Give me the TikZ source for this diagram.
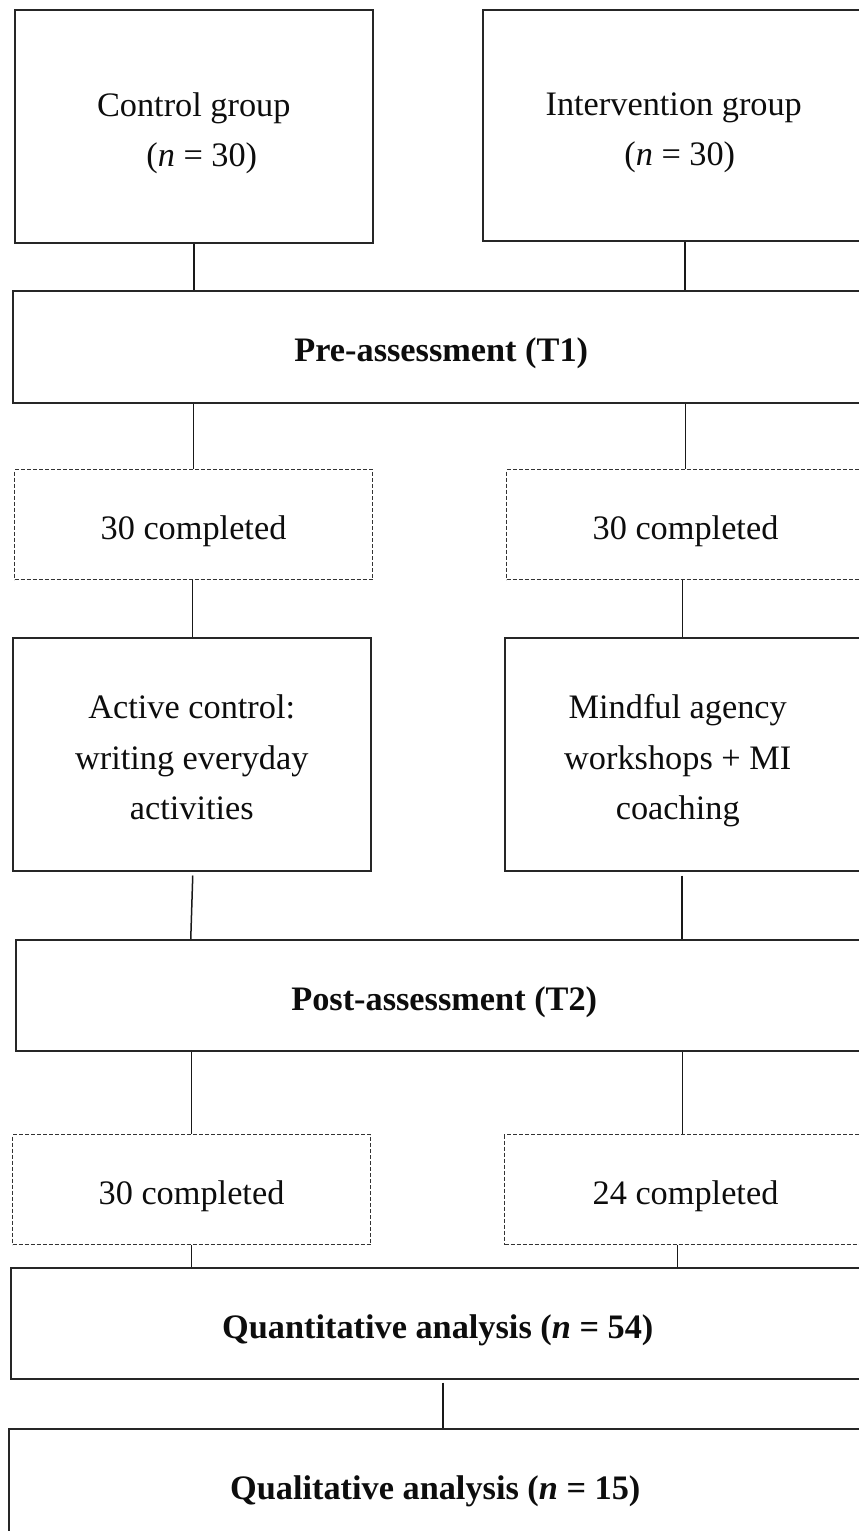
\documentclass[tikz,border=0pt]{standalone}
\usepackage{fontspec}
\setmainfont{Liberation Serif}
\newcommand\boxtext[1]{\raisebox{-5pt}[\height][\depth]{\begin{tabular}{@{}c@{}}#1\end{tabular}}}
\begin{document}
\begin{tikzpicture}[x=1pt,y=-1pt,
  every node/.style={font=\fontsize{34.3}{50.5}\selectfont, text=black!95, inner sep=0pt},
  box/.style={draw=black!85, line width=1.5pt, anchor=north west},
  dbox/.style={draw=black!80, line width=1pt, dash pattern=on 4pt off 2pt, anchor=north west},
  conn/.style={draw=black!90, line width=1.5pt}]
\useasboundingbox (0,0) rectangle (859,1531);
\fill[white] (0,0) rectangle (859,1531);
\clip (0,0) rectangle (859,1531);
% row 1
\node[box, minimum width=358pt, minimum height=233pt] (ctrl) at (14,9)
  {\boxtext{Control group\\\hspace*{16pt}(\textit{n} = 30)}};
\node[box, minimum width=382pt, minimum height=231pt] (inter) at (482,9)
  {\boxtext{Intervention group\\\hspace*{12pt}(\textit{n} = 30)}};
% pre
\node[box, minimum width=857pt, minimum height=112pt] (pre) at (12,290)
  {\boxtext{\textbf{Pre-assessment (T1)}}};
% dashed 1
\node[dbox, minimum width=358pt, minimum height=110pt] (d1) at (14,469) {\boxtext{30 completed}};
\node[dbox, minimum width=358pt, minimum height=110pt] (d2) at (506,469) {\boxtext{30 completed}};
% interventions
\node[box, minimum width=358pt, minimum height=233pt] (act) at (12,637)
  {\boxtext{Active control:\\writing everyday\\activities}};
\node[box, minimum width=358pt, minimum height=233pt] (mind) at (504,637)
  {\boxtext{\hspace*{-12pt}Mindful agency\\\hspace*{-12pt}workshops + MI\\\hspace*{-12pt}coaching}};
% post
\node[box, minimum width=857pt, minimum height=111pt] (post) at (15,939)
  {\boxtext{\textbf{Post-assessment (T2)}}};
% dashed 2
\node[dbox, minimum width=358pt, minimum height=110pt] (d3) at (12,1134) {\boxtext{30 completed}};
\node[dbox, minimum width=362pt, minimum height=110pt] (d4) at (504,1134) {\boxtext{24 completed}};
% analyses
\node[box, minimum width=854pt, minimum height=111pt] (quant) at (10,1267)
  {\boxtext{\textbf{Quantitative analysis (\textit{n} = 54)}}};
\node[box, minimum width=853pt, minimum height=111pt] (qual) at (8,1428)
  {\boxtext{\textbf{Qualitative analysis (\textit{n} = 15)}}};
% connectors
\draw[conn] (ctrl.south) -- (ctrl.south |- pre.north);
\draw[conn] ([xshift=11pt]inter.south) -- ([xshift=11pt]inter.south |- pre.north);
\draw[conn] (d1.north |- pre.south) -- (d1.north);
\draw[conn] (d2.north |- pre.south) -- (d2.north);
\draw[conn] ([xshift=-1pt]d1.south) -- ([xshift=-1pt]d1.south |- act.north);
\draw[conn] ([xshift=-3pt]d2.south) -- ([xshift=-3pt]d2.south |- mind.north);
\draw[conn] ([xshift=1pt,yshift=-4pt]act.south) -- ([xshift=-1pt]act.south |- post.north);
\draw[conn] ([xshift=-2pt,yshift=-4pt]mind.south) -- ([xshift=-2pt]mind.south |- post.north);
\draw[conn] (d3.north |- post.south) -- (d3.north);
\draw[conn] ([xshift=-3pt]d4.north |- post.south) -- ([xshift=-3pt]d4.north);
\draw[conn] (d3.south) -- (d3.south |- quant.north);
\draw[conn] ([xshift=-8pt]d4.south) -- ([xshift=-8pt]d4.south |- quant.north);
\draw[conn] ([xshift=5pt,yshift=-3pt]quant.south) -- ([xshift=5pt]quant.south |- qual.north);
\end{tikzpicture}
\end{document}
